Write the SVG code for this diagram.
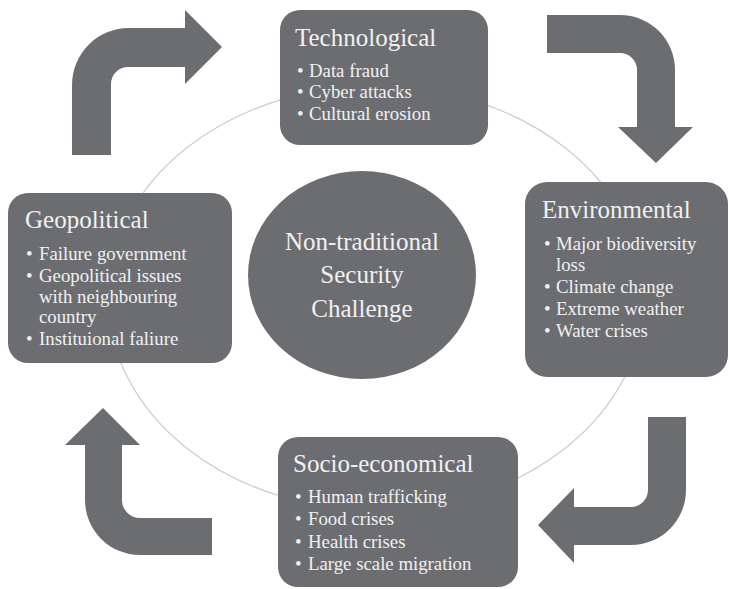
<svg xmlns="http://www.w3.org/2000/svg" width="729" height="589" viewBox="0 0 729 589">
  <style>
    .box { fill: #6c6d71; }
    .arrow { fill: #6c6d71; }
    .ring { fill: none; stroke: #cdcdcf; stroke-width: 1.3; }
    text { font-family: "Liberation Serif", "DejaVu Serif", serif; fill: #f1f1f1; }
    .title { font-size: 25px; }
    .item { font-size: 18.8px; }
    .hub { font-size: 25px; text-anchor: middle; }
  </style>
  <rect width="729" height="589" fill="#ffffff"/>

  <!-- ring and curved cycle arrows -->
  <g id="connectors">
    <ellipse class="ring" cx="376" cy="298" rx="268" ry="212"/>
    <path class="arrow" d="M 72 155 L 72 85 A 57 57 0 0 1 129 28 L 185 28 L 185 10 L 222 47 L 185 84 L 185 67 L 128 67 A 17 17 0 0 0 111 84 L 111 155 Z"/>
    <path class="arrow" d="M 547 15 L 620 15 A 55 55 0 0 1 675 70 L 675 127 L 693 127 L 656 163 L 618 127 L 637 127 L 637 70 A 17 17 0 0 0 620 53 L 547 53 Z"/>
    <path class="arrow" d="M 648 417 L 686 417 L 686 490 A 55 55 0 0 1 631 545 L 574 545 L 574 563 L 538 525 L 574 488 L 574 507 L 631 507 A 17 17 0 0 0 648 490 Z"/>
    <path class="arrow" d="M 212 518 L 212 555 L 140 555 A 55 55 0 0 1 85 500 L 85 445 L 65 445 L 103 408 L 140 445 L 122 445 L 122 500 A 18 18 0 0 0 140 518 Z"/>
  </g>

  <g id="hub">
    <ellipse class="box" cx="362" cy="275" rx="114" ry="104"/>
    <text class="hub" x="362" y="250">Non-traditional</text>
    <text class="hub" x="362" y="283">Security</text>
    <text class="hub" x="362" y="317">Challenge</text>
  </g>

  <g id="technological">
    <rect class="box" x="280" y="10" width="208" height="135" rx="20"/>
    <text class="title" x="295" y="46">Technological</text>
    <text class="item" x="297" y="77">•</text><text class="item" x="309" y="77">Data fraud</text>
    <text class="item" x="297" y="98">•</text><text class="item" x="309" y="98">Cyber attacks</text>
    <text class="item" x="297" y="120">•</text><text class="item" x="309" y="120">Cultural erosion</text>
  </g>

  <g id="environmental">
    <rect class="box" x="525" y="182" width="203" height="195" rx="22"/>
    <text class="title" x="542" y="218">Environmental</text>
    <text class="item" x="544" y="250">•</text><text class="item" x="556" y="250">Major biodiversity</text>
    <text class="item" x="556" y="271">loss</text>
    <text class="item" x="544" y="293">•</text><text class="item" x="556" y="293">Climate change</text>
    <text class="item" x="544" y="315">•</text><text class="item" x="556" y="315">Extreme weather</text>
    <text class="item" x="544" y="337">•</text><text class="item" x="556" y="337">Water crises</text>
  </g>

  <g id="geopolitical">
    <rect class="box" x="8" y="193" width="224" height="170" rx="20"/>
    <text class="title" x="25" y="228">Geopolitical</text>
    <text class="item" x="26" y="260">•</text><text class="item" x="39" y="260">Failure government</text>
    <text class="item" x="26" y="282">•</text><text class="item" x="39" y="282">Geopolitical issues</text>
    <text class="item" x="39" y="303">with neighbouring</text>
    <text class="item" x="39" y="323">country</text>
    <text class="item" x="26" y="345">•</text><text class="item" x="39" y="345">Instituional faliure</text>
  </g>

  <g id="socio-economical">
    <rect class="box" x="278" y="437" width="240" height="150" rx="20"/>
    <text class="title" x="293" y="472">Socio-economical</text>
    <text class="item" x="295" y="503">•</text><text class="item" x="308" y="503">Human trafficking</text>
    <text class="item" x="295" y="525">•</text><text class="item" x="308" y="525">Food crises</text>
    <text class="item" x="295" y="548">•</text><text class="item" x="308" y="548">Health crises</text>
    <text class="item" x="295" y="570">•</text><text class="item" x="308" y="570">Large scale migration</text>
  </g>
</svg>
